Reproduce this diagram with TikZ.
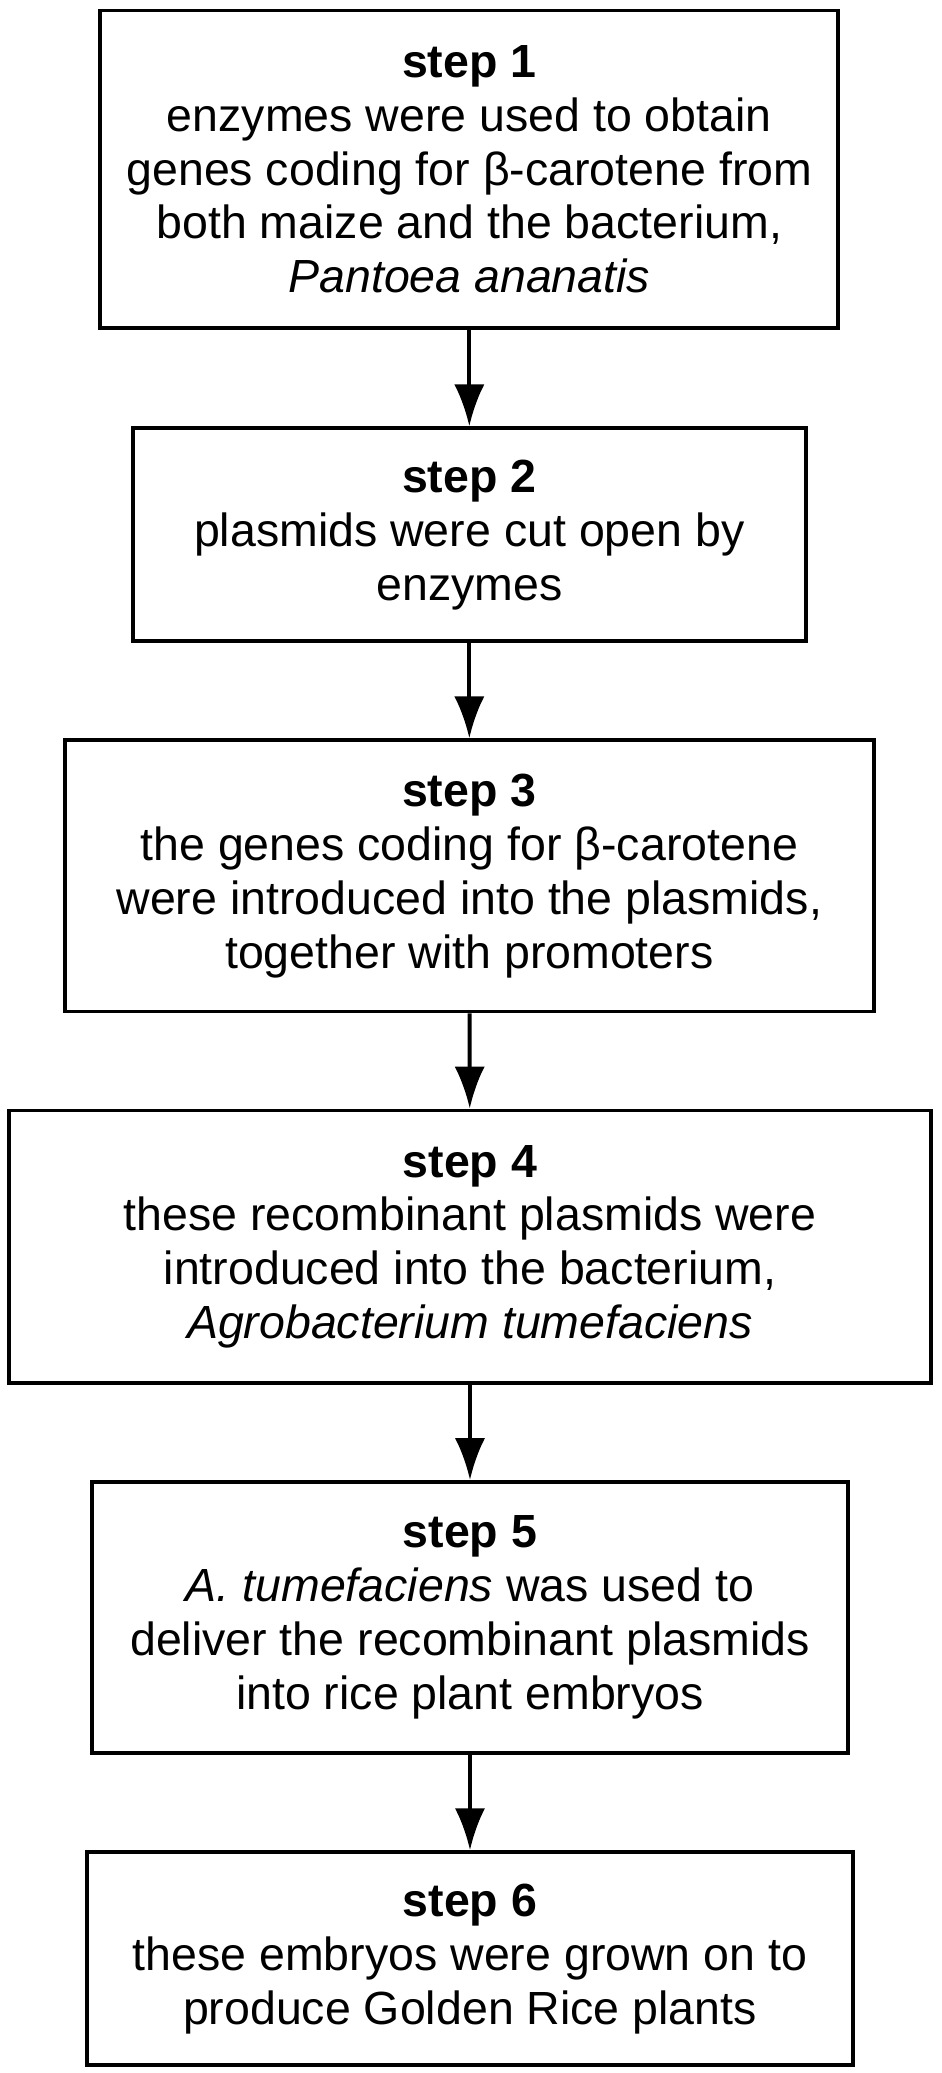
\documentclass[tikz,border=0pt]{standalone}
\usepackage{fontspec}
\setmainfont{Liberation Sans}
\usetikzlibrary{positioning}
\usetikzlibrary{arrows.meta}
\tikzset{>=latex}

\begin{document}
\begin{tikzpicture}[x=0.01cm, y=-0.01cm, line width=0.85pt,
    stage/.style={draw, align=center, inner sep=0pt, font=\fontsize{10}{11.6}\selectfont},
    flow/.style={-{Latex[length=9pt,width=6.5pt]}}]
    % page frame
    \useasboundingbox (0,0) rectangle (712,1568);

    % boxes
    \node[stage, minimum width=5.58cm, minimum height=2.40cm] (s1) at (355,128)
        {\textbf{step 1}\\enzymes were used to obtain\\genes coding for β-carotene from\\both maize and the bacterium,\\\textit{Pantoea ananatis}};
    \node[stage, minimum width=5.09cm, minimum height=1.61cm] (s2) at (355,404.5)
        {\textbf{step 2}\\plasmids were cut open by\\enzymes};
    \node[stage, minimum width=6.12cm, minimum height=2.05cm] (s3) at (355,662.5)
        {\textbf{step 3}\\the genes coding for β-carotene\\were introduced into the plasmids,\\together with promoters};
    \node[stage, minimum width=6.97cm, minimum height=2.06cm] (s4) at (355.5,943)
        {\textbf{step 4}\\these recombinant plasmids were\\introduced into the bacterium,\\\textit{Agrobacterium tumefaciens}};
    \node[stage, minimum width=5.71cm, minimum height=2.05cm] (s5) at (355.5,1223.5)
        {\textbf{step 5}\\\textit{A. tumefaciens} was used to\\deliver the recombinant plasmids\\into rice plant embryos};
    \node[stage, minimum width=5.79cm, minimum height=1.61cm] (s6) at (355.5,1481.5)
        {\textbf{step 6}\\these embryos were grown on to\\produce Golden Rice plants};

    % arrows
    \foreach \a/\b in {s1/s2, s2/s3, s3/s4, s4/s5, s5/s6}
        \draw[flow] (\a) -- (\b);
\end{tikzpicture}
\end{document}
